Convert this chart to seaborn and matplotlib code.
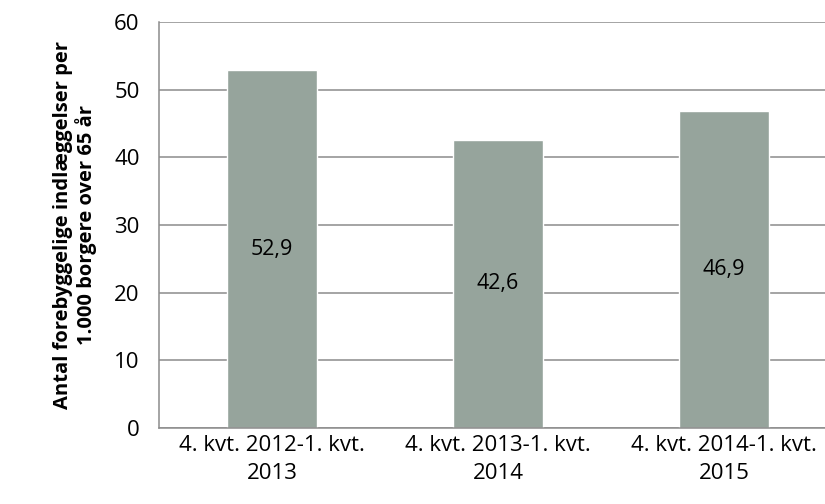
import matplotlib
matplotlib.use("Agg")
import pandas as pd
import seaborn as sns
import matplotlib.pyplot as plt

# Chart data
periods = ["4. kvt. 2012-1. kvt.\n2013", "4. kvt. 2013-1. kvt.\n2014", "4. kvt. 2014-1. kvt.\n2015"]
rates = [52.9, 42.6, 46.9]
y_ticks = [0, 10, 20, 30, 40, 50, 60]

df = pd.DataFrame({"period": periods, "rate": rates})

sns.set_style("white")
plt.rcParams["font.family"] = ["Open Sans", "DejaVu Sans"]
plt.rcParams["text.color"] = "black"
plt.rcParams["xtick.labelcolor"] = "black"
plt.rcParams["ytick.labelcolor"] = "black"

fig = plt.figure(figsize=(8.25, 5.04), dpi=100)
ax = fig.add_axes([0.1927, 0.1508, 0.822, 0.8055])

sns.barplot(data=df, x="period", y="rate", color="#96a49c", width=0.4,
            saturation=1, ax=ax)

# value labels centred in the bars
labels = [f"{v:.1f}".replace(".", ",") for v in rates]
ax.bar_label(ax.containers[0], labels=labels, label_type="center",
             fontsize=15.5, color="black")

ax.set_ylim(0, 60)
ax.set_yticks(y_ticks)
ax.set_xlim(-0.5, 2.5)
ax.yaxis.grid(True, color="#8c8c8c", linewidth=1.1)
ax.set_axisbelow(True)

for side in ["top", "right"]:
    ax.spines[side].set_visible(False)
for side in ["left", "bottom"]:
    ax.spines[side].set_color("#8c8c8c")
    ax.spines[side].set_linewidth(1.1)

ax.tick_params(axis="y", length=9, width=1.1, color="#8c8c8c", labelsize=16, pad=5)
ax.tick_params(axis="x", length=0, labelsize=16, pad=5)
for lbl in ax.get_xticklabels():
    lbl.set_linespacing(1.45)
# category boundary ticks on the x axis
ax.set_xticks([-0.5, 0.5, 1.5], minor=True)
ax.tick_params(axis="x", which="minor", length=8, width=1.1, color="#8c8c8c")

ax.set_xlabel("")
ax.set_ylabel("Antal forebyggelige indlæggelser per\n1.000 borgere over 65 år",
              fontsize=14.5, fontweight="bold", labelpad=12, linespacing=1.15,
              color="black")

fig.savefig("out.png", dpi=100)
